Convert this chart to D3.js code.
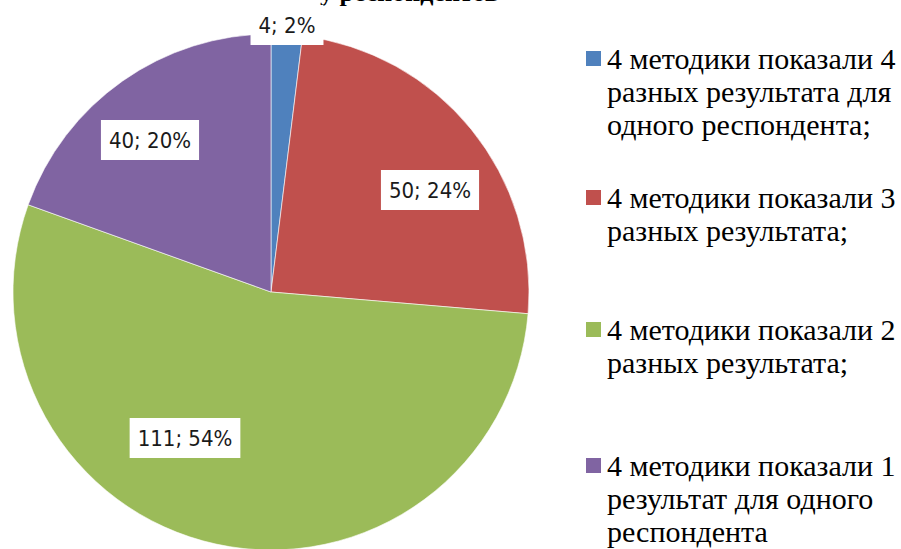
<!DOCTYPE html>
<html><head><meta charset="utf-8">
<script src="https://cdn.jsdelivr.net/npm/d3@7"></script>
<style>body{margin:0;background:#fff;}svg{display:block;}</style>
</head><body>
<svg id="c" width="901" height="549"></svg>
<script>
const categories = [
  "4 методики показали 4 разных результата для одного респондента;",
  "4 методики показали 3 разных результата;",
  "4 методики показали 2 разных результата;",
  "4 методики показали 1 результат для одного респондента"
];
const legendLines = [
  ["4 методики показали 4", "разных результата для", "одного респондента;"],
  ["4 методики показали 3", "разных результата;"],
  ["4 методики показали 2", "разных результата;"],
  ["4 методики показали 1", "результат для одного", "респондента"]
];
const values = [4, 50, 111, 40];
const percents = ["2%", "24%", "54%", "20%"];
const colors = ["#4F81BD", "#C0504D", "#9BBB59", "#8064A2"];
const titleText = "у респондентов";

const svg = d3.select("#c");
const cx = 271, cy = 292, r = 258;

const pie = d3.pie().sort(null).value(d => d);
const arcs = pie(values);
const arc = d3.arc().innerRadius(0).outerRadius(r);

const g = svg.append("g").attr("transform", `translate(${cx},${cy})`);
g.selectAll("path").data(arcs).enter().append("path")
  .attr("d", arc)
  .attr("fill", (d, i) => colors[i])
  .attr("stroke", "#fff").attr("stroke-width", 0.6);

// title (mostly cut off at top, as in the reference)
svg.append("text").attr("x", 320).attr("y", 1)
  .attr("font-family", "Liberation Serif").attr("font-weight", "bold")
  .attr("font-size", 26).attr("fill", "#000").text(titleText);

const labelPos = [[287, 25], [430, 190], [185, 438], [150, 140]];
const labFont = "'DejaVu Sans Condensed','DejaVu Sans',sans-serif";
arcs.forEach((d, i) => {
  const lg = svg.append("g");
  const t = lg.append("text")
    .attr("x", labelPos[i][0]).attr("y", labelPos[i][1])
    .attr("text-anchor", "middle").attr("dominant-baseline", "central")
    .attr("font-family", labFont).attr("font-size", 22).attr("fill", "#1a1a1a")
    .text(`${values[i]}; ${percents[i]}`);
  const bb = t.node().getBBox();
  lg.insert("rect", "text")
    .attr("x", bb.x - 8).attr("y", labelPos[i][1] - 20)
    .attr("width", bb.width + 16).attr("height", 40)
    .attr("fill", "#fff");
});

// legend
const legY = [69, 208, 340, 476];
const lineH = 33;
legendLines.forEach((lines, i) => {
  svg.append("rect").attr("x", 586).attr("y", legY[i] - 18)
    .attr("width", 15).attr("height", 15).attr("fill", colors[i]);
  lines.forEach((ln, j) => {
    svg.append("text").attr("x", 607).attr("y", legY[i] + j * lineH)
      .attr("font-family", "Liberation Serif").attr("font-size", 30)
      .attr("fill", "#000").text(ln);
  });
});
</script>
</body></html>
